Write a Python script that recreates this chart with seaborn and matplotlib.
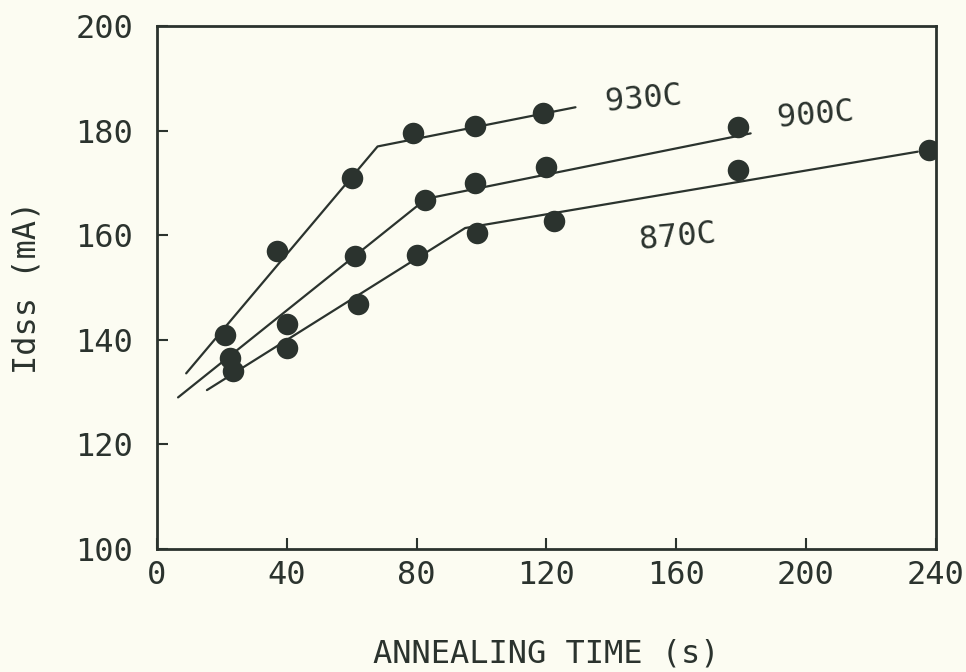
import matplotlib
matplotlib.use("Agg")
import matplotlib.pyplot as plt
import seaborn as sns
import pandas as pd

# ---- data ----
t930 = [21, 37, 60, 79, 98, 119]
i930 = [141, 157, 171, 179.5, 181, 183.4]
t900 = [22.5, 40, 61, 82.5, 98, 120, 179]
i900 = [136.5, 143, 156, 166.7, 170, 173, 180.7]
t870 = [23.5, 40, 62, 80, 98.5, 122.5, 179, 238]
i870 = [134, 138.4, 146.8, 156.2, 160.4, 162.7, 172.5, 176.3]

# fitted piecewise lines (vertices)
f930_t = [9, 68, 129]
f930_i = [133.6, 177, 184.5]
f900_t = [6.5, 83, 183]
f900_i = [129, 167, 179.5]
f870_t = [15.4, 95, 234.5]
f870_i = [130.4, 161.4, 176]

labels = ["930C", "900C", "870C"]
label_pos_t = [150, 203, 160.5]
label_pos_i = [186, 183, 159.7]

xticks = [0, 40, 80, 120, 160, 200, 240]
yticks = [100, 120, 140, 160, 180, 200]

ink = "#2b332e"
bg = "#fcfcf2"

sns.set_theme(style="ticks")
plt.rcParams["font.family"] = ["DejaVu Sans Mono", "DejaVu Sans"]

fig = plt.figure(figsize=(9.66, 6.72), dpi=100, facecolor=bg)
ax = fig.add_axes([0.1625, 0.183, 0.806, 0.778])
ax.set_facecolor(bg)

pts = pd.concat([
    pd.DataFrame({"t": t930, "i": i930, "s": "930C"}),
    pd.DataFrame({"t": t900, "i": i900, "s": "900C"}),
    pd.DataFrame({"t": t870, "i": i870, "s": "870C"}),
])
fits = [(f930_t, f930_i), (f900_t, f900_i), (f870_t, f870_i)]
for ft, fi in fits:
    sns.lineplot(x=ft, y=fi, ax=ax, color=ink, lw=1.6, sort=False,
                 estimator=None)
sns.scatterplot(data=pts, x="t", y="i", ax=ax, color=ink, s=240,
                edgecolor=ink, linewidth=0, legend=False, zorder=3)

for lab, lt, li in zip(labels, label_pos_t, label_pos_i):
    ax.text(lt, li, lab, fontsize=23, color=ink, ha="center", va="center",
            rotation=5)

ax.set_xlim(0, 240)
ax.set_ylim(100, 200)
ax.set_xticks(xticks)
ax.set_yticks(yticks)
ax.tick_params(direction="in", length=8, width=1.5, colors=ink,
               labelsize=23, labelcolor=ink)
ax.tick_params(axis="x", pad=8)
ax.tick_params(axis="y", pad=17)
for sp in ax.spines.values():
    sp.set_color(ink)
    sp.set_linewidth(2)
ax.set_xlabel("ANNEALING TIME (s)", fontsize=23, color=ink, labelpad=34)
ax.set_ylabel("Idss (mA)", fontsize=23, color=ink, labelpad=24)

fig.savefig("out.png", dpi=100, facecolor=bg)
